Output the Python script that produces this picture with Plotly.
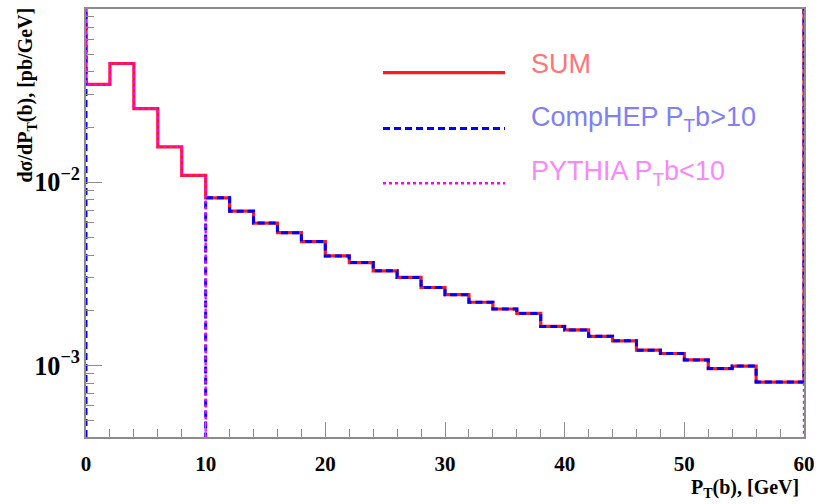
import numpy as np
import plotly.graph_objects as go

# ---- data ----
bin_edges = list(range(0, 62, 2))  # 0..60, width 2 GeV
sum_vals = [0.0342, 0.0445, 0.0252, 0.0156, 0.0109,
            0.00822, 0.00695, 0.00598, 0.00530, 0.00474,
            0.00396, 0.00364, 0.00328, 0.00302, 0.00266,
            0.00243, 0.00221, 0.00203, 0.00192, 0.00163,
            0.00156, 0.00144, 0.00136, 0.00121, 0.00116,
            0.00107, 0.00096, 0.00099, 0.00081, 0.00081]
comphep_vals = [0, 0, 0, 0, 0] + sum_vals[5:]
pythia_vals = sum_vals[:5] + [0] * 25
# underflow / overflow contents (off scale, above the top of the frame)
underflow = {"SUM": 1.0, "CompHEP": 1.0, "PYTHIA": 1.0}
overflow = {"SUM": 1.0, "CompHEP": 1.0, "PYTHIA": 1.0}

x_ticks = [0, 10, 20, 30, 40, 50, 60]

FLOOR = 1e-9  # empty bins on a log axis


def step_xy(name, vals):
    xs = [bin_edges[0] - 2] + bin_edges + [bin_edges[-1] + 2]
    v = [x if x > 0 else FLOOR for x in vals]
    ys = [underflow[name]] + v + [overflow[name], overflow[name]]
    return xs, ys


DASH = "7px,4px"
fig = go.Figure()
styles = [("SUM", sum_vals, "#ff1a1a", "solid", 3.2),
          ("CompHEP", comphep_vals, "#0000ff", DASH, 3.0),
          ("PYTHIA", pythia_vals, "#ff00ff", "dot", 2.4)]
for name, vals, col, dash, w in styles:
    xs, ys = step_xy(name, vals)
    fig.add_trace(go.Scatter(x=xs, y=ys, mode="lines", line_shape="hv",
                             line=dict(color=col, dash=dash, width=w),
                             showlegend=False, hoverinfo="skip"))

W, H = 822, 504
L, R, T, B = 86, 804, 7, 437


def px(x):
    return (x - L) / (R - L)


def py(y):
    return (B - y) / (B - T)


serif = "Liberation Serif"
axis_col = "#8c8c8c"

fig.update_layout(
    width=W, height=H,
    margin=dict(l=L, r=W - R, t=T, b=H - B, pad=0),
    paper_bgcolor="white", plot_bgcolor="white",
    xaxis=dict(range=[0, 60], tickvals=x_ticks, ticks="inside", ticklen=15,
               tickcolor=axis_col, tickwidth=1.2, ticklabelstandoff=7,
               minor=dict(dtick=2, ticks="inside", ticklen=8, tickcolor=axis_col, tickwidth=1.2),
               showgrid=False, zeroline=False, showline=True, linecolor=axis_col,
               linewidth=1.5, mirror=True,
               tickfont=dict(family=serif, size=21, color="black", weight="bold")),
    yaxis=dict(type="log", range=[np.log10(4.06e-4), np.log10(0.0883)],
               dtick=1, exponentformat="power", ticks="inside", ticklen=16,
               tickcolor=axis_col, tickwidth=1.2,
               minor=dict(dtick="D1", ticks="inside", ticklen=8, tickcolor=axis_col, tickwidth=1.2),
               showgrid=False, zeroline=False, showline=True, linecolor=axis_col,
               linewidth=1.5, mirror=True,
               tickfont=dict(family=serif, size=21, color="black", weight="bold")),
)

# axis titles
fig.add_annotation(text="dσ/dP<sub>T</sub>(b), [pb/GeV]", xref="paper", yref="paper",
                   x=px(27), y=py(4), xanchor="center", yanchor="top", textangle=-90,
                   showarrow=False,
                   font=dict(family=serif, size=20, color="black", weight="bold"))
fig.add_annotation(text="P<sub>T</sub>(b), [GeV]", xref="paper", yref="paper",
                   x=px(801), y=py(489), xanchor="right", yanchor="middle",
                   showarrow=False,
                   font=dict(family=serif, size=20, color="black", weight="bold"))

# legend
leg = [("SUM", "#ff1a1a", "solid", 3.2, 71, 62, "#ff7575"),
       ("CompHEP P<sub>T</sub>b>10", "#0000ff", DASH, 3.0, 127, 118, "#8080f5"),
       ("PYTHIA P<sub>T</sub>b<10", "#ff00ff", "dot", 2.4, 182, 172, "#fb88fb")]
for text, col, dash, w, ly, ty, tcol in leg:
    fig.add_shape(type="line", xref="paper", yref="paper",
                  x0=px(383), x1=px(505), y0=py(ly), y1=py(ly),
                  line=dict(color=col, dash=dash, width=w))
    fig.add_annotation(text=text, xref="paper", yref="paper", x=px(529), y=py(ty),
                       xanchor="left", yanchor="middle", showarrow=False,
                       font=dict(family="Liberation Sans", size=27, color=tcol))

fig.write_html("out.html")
